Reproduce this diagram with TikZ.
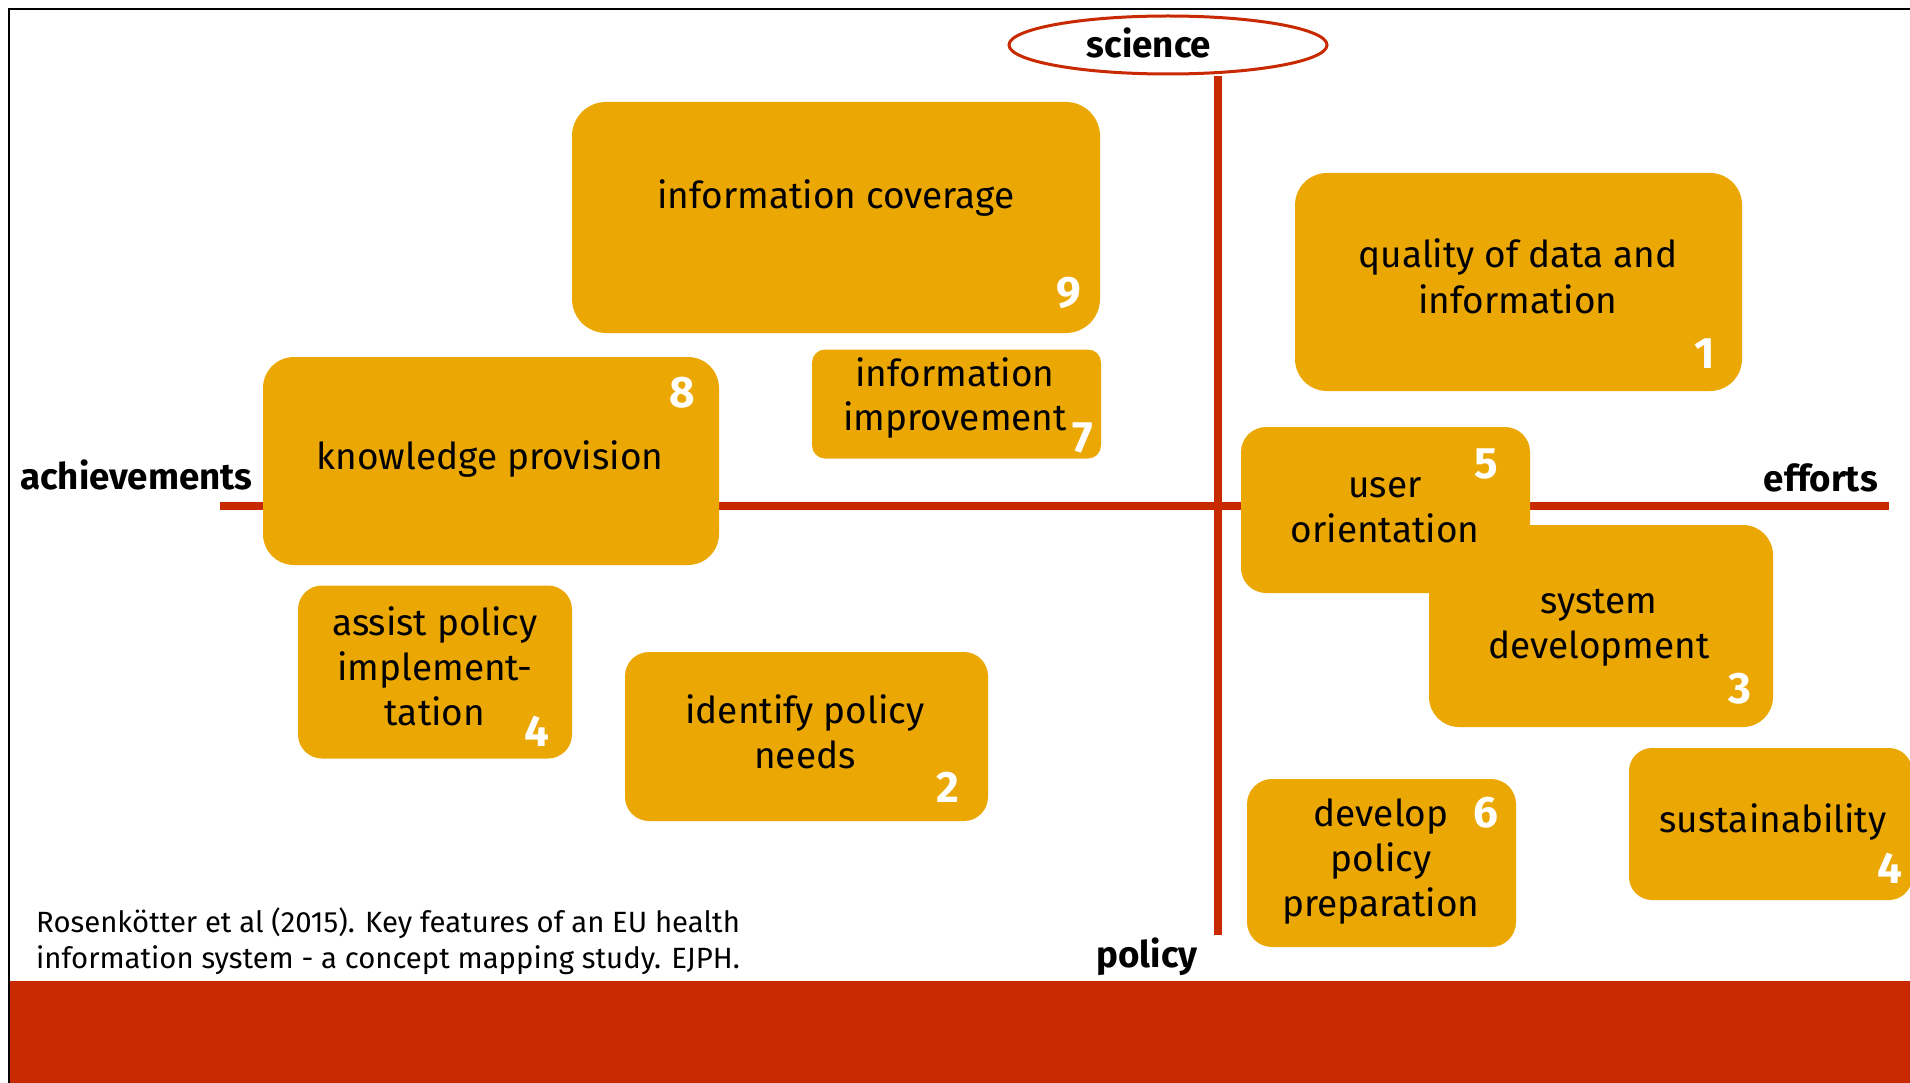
\documentclass[tikz,border=0pt]{standalone}
\usepackage{fontspec}
\setmainfont{Fira Sans}
\usetikzlibrary{shapes.geometric}
\definecolor{gold}{RGB}{235,167,4}
\definecolor{brick}{RGB}{200,41,0}

\tikzset{
  card/.style={fill=gold, draw=none, inner sep=0pt},
  words/.style={anchor=base, inner sep=0pt, font=\fontsize{37}{45}\selectfont},
  tight/.style={anchor=base, inner sep=0pt, font=\fontsize{37}{44}\selectfont},
  rank/.style={anchor=base, inner sep=0pt, text=white, font=\fontsize{44}{44}\selectfont\bfseries},
  pole/.style={anchor=base, inner sep=0pt, font=\fontsize{36.7}{40}\selectfont\bfseries},
  axis/.style={draw=brick, line width=7.5pt},
  cite/.style={anchor=base west, inner sep=0pt, font=\fontsize{29.3}{36}\selectfont},
}
\newcommand{\stack}[1]{\parbox[t]{500pt}{\centering #1}}
\newcommand{\leftstack}[1]{\parbox[t]{900pt}{\raggedright #1}}

\begin{document}
\begin{tikzpicture}[x=1pt, y=-1pt]
  \useasboundingbox (0,0) rectangle (1910,1083);
  \clip (0,0) rectangle (1910,1083);

  % frame and footer band
  \draw[line width=2.5pt] (8,9) -- (1910,9);
  \draw[line width=2pt] (9,8) -- (9,1083);
  \fill[brick] (10,981) rectangle (1910,1083);

  % axes
  \coordinate (axtop) at (1218,76);
  \coordinate (axbot) at (1218,935);
  \coordinate (axleft) at (220,506);
  \coordinate (axright) at (1889,506);
  \draw[axis] (axtop) -- (axbot);
  \draw[axis] (axleft) -- (axright);

  % pole labels
  \node[draw=brick, line width=3pt, ellipse, minimum width=318pt, minimum height=58pt] (ring) at (1168,45) {};
  \node[pole] (science) at (1149,58) {science};
  \node[pole] (policy) at (1147,967) {policy};
  \node[pole, anchor=base west] (achieve) at (20,489) {achievements};
  \node[pole, anchor=base east] (efforts) at (1878,491) {efforts};

  % cluster cards
  \node[card, rounded corners=34pt, minimum width=528pt, minimum height=231pt] (covbox) at (836,217.5) {};
  \node[card, rounded corners=32pt, minimum width=447pt, minimum height=218pt] (qualbox) at (1518.5,282) {};
  \node[card, rounded corners=13pt, minimum width=289pt, minimum height=109pt] (impbox) at (956.5,404) {};
  \node[card, rounded corners=31pt, minimum width=456pt, minimum height=208pt] (knowbox) at (491,461) {};
  \node[card, rounded corners=25pt, minimum width=289pt, minimum height=166pt] (userbox) at (1385.5,510) {};
  \node[card, rounded corners=30pt, minimum width=344pt, minimum height=202pt] (sysbox) at (1601,626) {};
  \node[card, rounded corners=24pt, minimum width=274pt, minimum height=173pt] (assistbox) at (435,672) {};
  \node[card, rounded corners=24pt, minimum width=363pt, minimum height=169pt] (needbox) at (806.5,736.5) {};
  \node[card, rounded corners=25pt, minimum width=269pt, minimum height=168pt] (prepbox) at (1381.5,863) {};
  \node[card, rounded corners=23pt, minimum width=283pt, minimum height=152pt] (sustbox) at (1770.5,824) {};

  % card texts
  \node[words] (covtxt) at (836,209) {information coverage};
  \node[words] (qualtxt) at (1518,268) {\stack{quality of data and\\information}};
  \node[tight] (imptxt) at (955,386) {\stack{information\\improvement}};
  \node[words] (knowtxt) at (490,469) {knowledge provision};
  \node[words] (usertxt) at (1385,497) {\stack{user\\orientation}};
  \node[words] (systxt) at (1599,613) {\stack{system\\development}};
  \node[words] (assisttxt) at (435,635) {\stack{assist policy\\implement-\\tation}};
  \node[words] (needtxt) at (805,723) {\stack{identify policy\\needs}};
  \node[words] (preptxt) at (1381,826) {\stack{develop\\policy\\preparation}};
  \node[words] (susttxt) at (1773,832) {sustainability};

  % cluster ranks
  \node[rank] (r9) at (1069,307) {9};
  \node[rank] (r1) at (1705,368) {1};
  \node[rank] (r7) at (1083,452) {7};
  \node[rank] (r8) at (682,407) {8};
  \node[rank] (r5) at (1486,478) {5};
  \node[rank] (r3) at (1740,703) {3};
  \node[rank] (r4a) at (537,746) {4};
  \node[rank] (r2) at (948,802) {2};
  \node[rank] (r6) at (1486,827) {6};
  \node[rank] (r4b) at (1890,883) {4};

  % source
  \node[cite] (source) at (36,932) {\leftstack{Rosenkötter et al (2015). Key features of an EU health\\information system - a concept mapping study. EJPH.}};
\end{tikzpicture}
\end{document}
